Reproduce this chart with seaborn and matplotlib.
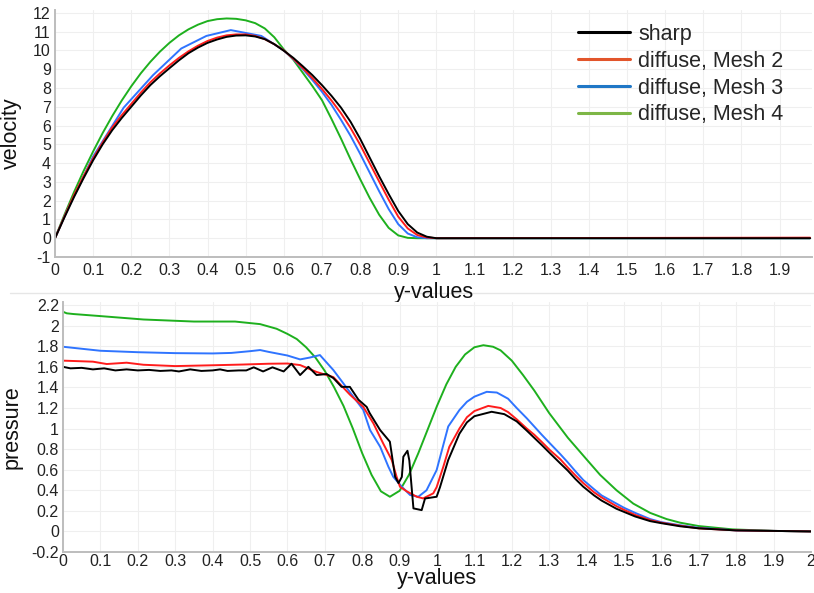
import numpy as np
import pandas as pd
import matplotlib
matplotlib.use("Agg")
import matplotlib.pyplot as plt
from matplotlib.lines import Line2D
import seaborn as sns

# ---------------- data ----------------
series_names = ["sharp", "diffuse, Mesh 2", "diffuse, Mesh 3", "diffuse, Mesh 4"]

# velocity profiles
vel_x_sharp = [0, 0.025, 0.05, 0.075, 0.1, 0.125, 0.15, 0.175, 0.2, 0.225, 0.25, 0.275, 0.3,
               0.325, 0.35, 0.375, 0.4, 0.425, 0.45, 0.475, 0.5, 0.525, 0.55, 0.575, 0.6,
               0.625, 0.65, 0.675, 0.7, 0.725, 0.75, 0.775, 0.8, 0.825, 0.85, 0.875, 0.9,
               0.925, 0.95, 0.975, 1.0, 1.98]
vel_sharp = [0, 1.12, 2.2, 3.2, 4.15, 5.0, 5.75, 6.4, 7.0, 7.6, 8.15, 8.62, 9.05,
             9.47, 9.85, 10.15, 10.4, 10.58, 10.72, 10.79, 10.8, 10.74, 10.6, 10.33, 9.98,
             9.6, 9.15, 8.68, 8.15, 7.58, 6.95, 6.2, 5.3, 4.3, 3.3, 2.35, 1.45,
             0.75, 0.3, 0.08, 0.0, 0.0]
vel_x_m2 = [0, 0.025, 0.05, 0.075, 0.1, 0.125, 0.15, 0.175, 0.2, 0.225, 0.25, 0.275, 0.3,
            0.325, 0.35, 0.375, 0.4, 0.425, 0.45, 0.475, 0.5, 0.525, 0.55, 0.575, 0.6,
            0.625, 0.65, 0.675, 0.7, 0.725, 0.75, 0.775, 0.8, 0.825, 0.85, 0.875, 0.9,
            0.925, 0.95, 0.975, 1.0, 1.98]
vel_m2 = [0, 1.17, 2.3, 3.3, 4.25, 5.1, 5.9, 6.55, 7.15, 7.75, 8.3, 8.77, 9.2,
          9.6, 9.95, 10.25, 10.5, 10.68, 10.8, 10.85, 10.85, 10.77, 10.6, 10.33, 10.0,
          9.55, 9.05, 8.52, 7.95, 7.33, 6.65, 5.87, 4.98, 4.0, 3.02, 2.05, 1.15,
          0.52, 0.17, 0.04, 0.0, 0.03]
vel_x_m3 = [0, 0.03, 0.1, 0.18, 0.257, 0.331, 0.397, 0.461, 0.541, 0.6, 0.625, 0.65, 0.675,
            0.7, 0.725, 0.75, 0.775, 0.8, 0.825, 0.85, 0.875, 0.9, 0.925, 0.95, 0.975, 1.0, 1.98]
vel_m3 = [0, 1.4, 4.35, 6.95, 8.68, 10.1, 10.77, 11.08, 10.77, 10.0, 9.53, 9.0, 8.42,
          7.8, 7.1, 6.3, 5.45, 4.5, 3.5, 2.5, 1.55, 0.75, 0.25, 0.05, 0.0, 0.0, 0.0]
vel_x_m4 = [0, 0.025, 0.05, 0.075, 0.1, 0.125, 0.15, 0.175, 0.2, 0.225, 0.25, 0.275, 0.3,
            0.325, 0.35, 0.375, 0.4, 0.425, 0.45, 0.475, 0.5, 0.525, 0.55, 0.575, 0.6,
            0.625, 0.65, 0.675, 0.7, 0.725, 0.75, 0.775, 0.8, 0.825, 0.85, 0.875, 0.9,
            0.925, 0.95, 1.0, 1.98]
vel_m4 = [0, 1.26, 2.46, 3.58, 4.62, 5.6, 6.5, 7.33, 8.09, 8.78, 9.39, 9.93, 10.4,
          10.8, 11.12, 11.37, 11.56, 11.66, 11.7, 11.68, 11.6, 11.45, 11.17, 10.7, 10.05,
          9.5, 8.8, 8.1, 7.35, 6.35, 5.3, 4.2, 3.15, 2.15, 1.25, 0.55, 0.15,
          0.02, 0.0, 0.0, 0.0]

# pressure profiles
p_x_sharp = [0.0, 0.02, 0.05, 0.08, 0.11, 0.14, 0.17, 0.2, 0.23, 0.26, 0.29, 0.31, 0.34, 0.37,
             0.4, 0.42, 0.44, 0.47, 0.49, 0.51, 0.535, 0.56, 0.59, 0.611, 0.634, 0.656, 0.678,
             0.705, 0.723, 0.745, 0.767, 0.79, 0.812, 0.82, 0.848, 0.874, 0.888, 0.897, 0.906,
             0.91, 0.921, 0.926, 0.937, 0.959, 0.968, 0.999, 1.008, 1.03, 1.06, 1.08, 1.1,
             1.146, 1.18, 1.213, 1.24, 1.26, 1.28, 1.302, 1.33, 1.35, 1.37, 1.391, 1.42,
             1.44, 1.48, 1.5, 1.53, 1.57, 1.6, 1.65, 1.7, 1.8, 2.0]
p_sharp = [1.60, 1.585, 1.59, 1.575, 1.585, 1.565, 1.575, 1.565, 1.57, 1.56, 1.565, 1.555, 1.575, 1.56,
           1.565, 1.575, 1.56, 1.565, 1.565, 1.595, 1.555, 1.595, 1.555, 1.63, 1.52, 1.60, 1.52,
           1.53, 1.49, 1.405, 1.405, 1.28, 1.21, 1.15, 0.985, 0.872, 0.531, 0.47, 0.53,
           0.726, 0.784, 0.69, 0.224, 0.207, 0.32, 0.337, 0.43, 0.694, 0.95, 1.06, 1.12,
           1.163, 1.14, 1.07, 0.98, 0.91, 0.84, 0.76, 0.66, 0.59, 0.51, 0.435, 0.35,
           0.30, 0.22, 0.19, 0.145, 0.10, 0.08, 0.05, 0.03, 0.01, 0.0]
p_x_m2 = [0.0, 0.08, 0.117, 0.17, 0.215, 0.3, 0.4, 0.48, 0.55, 0.6, 0.634, 0.678, 0.723, 0.767,
          0.803, 0.83, 0.856, 0.879, 0.892, 0.901, 0.919, 0.946, 0.963, 0.99, 0.999, 1.017, 1.033,
          1.06, 1.08, 1.1, 1.137, 1.17, 1.19, 1.213, 1.24, 1.26, 1.28, 1.302, 1.33, 1.35, 1.37,
          1.391, 1.42, 1.44, 1.48, 1.5, 1.53, 1.57, 1.6, 1.65, 1.7, 1.8, 2.0]
p_m2 = [1.66, 1.65, 1.627, 1.64, 1.62, 1.607, 1.615, 1.622, 1.63, 1.632, 1.617, 1.55, 1.50, 1.33,
        1.21, 1.05, 0.856, 0.694, 0.531, 0.434, 0.39, 0.337, 0.321, 0.37, 0.43, 0.63, 0.823,
        1.0, 1.11, 1.17, 1.22, 1.20, 1.16, 1.09, 1.0, 0.94, 0.87, 0.79, 0.70, 0.62, 0.545,
        0.47, 0.38, 0.33, 0.245, 0.21, 0.16, 0.11, 0.085, 0.055, 0.03, 0.01, 0.0]
p_x_m3 = [0.0, 0.1, 0.2, 0.3, 0.4, 0.45, 0.5, 0.527, 0.55, 0.6, 0.634, 0.66, 0.687, 0.723, 0.763,
          0.803, 0.821, 0.848, 0.870, 0.883, 0.906, 0.928, 0.95, 0.972, 0.999, 1.03, 1.06, 1.08,
          1.1, 1.133, 1.16, 1.19, 1.213, 1.24, 1.26, 1.28, 1.302, 1.33, 1.35, 1.37, 1.391, 1.42,
          1.44, 1.48, 1.5, 1.53, 1.57, 1.6, 1.65, 1.7, 1.8, 2.0]
p_m3 = [1.795, 1.756, 1.742, 1.733, 1.73, 1.735, 1.752, 1.763, 1.745, 1.71, 1.672, 1.69, 1.714,
        1.568, 1.374, 1.18, 0.985, 0.823, 0.629, 0.531, 0.434, 0.354, 0.337, 0.40, 0.596, 1.02,
        1.18, 1.26, 1.31, 1.357, 1.35, 1.29, 1.20, 1.10, 1.02, 0.94, 0.856, 0.75, 0.67, 0.585,
        0.50, 0.41, 0.35, 0.27, 0.23, 0.18, 0.12, 0.09, 0.06, 0.035, 0.01, 0.0]
p_x_m4 = [0.0, 0.01, 0.028, 0.1, 0.215, 0.35, 0.46, 0.527, 0.571, 0.6, 0.625, 0.65, 0.675, 0.7,
          0.725, 0.75, 0.775, 0.8, 0.825, 0.85, 0.874, 0.9, 0.925, 0.95, 0.975, 1.0, 1.025, 1.05,
          1.075, 1.1, 1.124, 1.15, 1.17, 1.2, 1.23, 1.26, 1.3, 1.35, 1.4, 1.436, 1.48, 1.525,
          1.57, 1.614, 1.65, 1.7, 1.79, 1.9, 2.0]
p_m4 = [2.135, 2.12, 2.113, 2.093, 2.06, 2.04, 2.04, 2.015, 1.97, 1.92, 1.87, 1.79, 1.69, 1.56,
        1.40, 1.22, 1.0, 0.76, 0.55, 0.39, 0.337, 0.395, 0.55, 0.76, 0.99, 1.22, 1.43, 1.6,
        1.72, 1.79, 1.81, 1.795, 1.76, 1.66, 1.52, 1.37, 1.15, 0.91, 0.70, 0.55, 0.40, 0.27,
        0.18, 0.12, 0.085, 0.052, 0.02, 0.005, 0.0]

vel_ticks_x = [round(0.1 * i, 1) for i in range(20)]
vel_ticks_y = list(range(-1, 13))
p_ticks_x = [round(0.1 * i, 1) for i in range(21)]
p_ticks_y = [round(-0.2 + 0.2 * i, 1) for i in range(13)]

line_colors = {"sharp": "#000000", "diffuse, Mesh 2": "#ff1c1c",
               "diffuse, Mesh 3": "#2f74ff", "diffuse, Mesh 4": "#1eb01e"}
legend_colors = ["#000000", "#e2552b", "#1f77c6", "#7db646"]


def tick_fmt(v):
    return f"{v:g}"


def long_df(pairs):
    frames = []
    for name, xs, ys in pairs:
        frames.append(pd.DataFrame({"x": xs, "y": ys, "series": name}))
    return pd.concat(frames, ignore_index=True)


vel_df = long_df([
    ("diffuse, Mesh 4", vel_x_m4, vel_m4),
    ("diffuse, Mesh 3", vel_x_m3, vel_m3),
    ("diffuse, Mesh 2", vel_x_m2, vel_m2),
    ("sharp", vel_x_sharp, vel_sharp),
])
p_df = long_df([
    ("diffuse, Mesh 4", p_x_m4, p_m4),
    ("diffuse, Mesh 3", p_x_m3, p_m3),
    ("diffuse, Mesh 2", p_x_m2, p_m2),
    ("sharp", p_x_sharp, p_sharp),
])

# ---------------- style ----------------
sns.set_style("white")
plt.rcParams["font.family"] = ["Liberation Sans", "DejaVu Sans"]

fig = plt.figure(figsize=(8.14, 5.93), dpi=100)
ax1 = fig.add_axes([55 / 814, 1 - 257 / 593, (812 - 55) / 814, (257 - 10) / 593])
ax2 = fig.add_axes([63 / 814, 1 - 552 / 593, (811 - 63) / 814, (552 - 302) / 593])

order = ["diffuse, Mesh 4", "diffuse, Mesh 3", "diffuse, Mesh 2", "sharp"]
for ax, df in ((ax1, vel_df), (ax2, p_df)):
    sns.lineplot(data=df, x="x", y="y", hue="series", hue_order=order,
                 palette=line_colors, estimator=None, sort=False, linewidth=1.4,
                 legend=False, ax=ax)

label_font = dict(family=["Liberation Sans", "DejaVu Sans"], size=15.5, color="#111111")

ax1.set_xlim(0, 1.985)
ax1.set_ylim(-1, 12.15)
ax1.set_xticks(vel_ticks_x)
ax1.set_xticklabels([tick_fmt(v) for v in vel_ticks_x])
ax1.set_yticks(vel_ticks_y)
ax1.set_yticklabels([tick_fmt(v) for v in vel_ticks_y])
ax1.set_ylabel("velocity", **label_font, labelpad=8)

ax2.set_xlim(0, 2.0)
ax2.set_ylim(-0.2, 2.23)
ax2.set_xticks(p_ticks_x)
ax2.set_xticklabels([tick_fmt(v) for v in p_ticks_x])
ax2.set_yticks(p_ticks_y)
ax2.set_yticklabels([tick_fmt(v) for v in p_ticks_y])
ax2.set_ylabel("pressure", **label_font, labelpad=6)

for ax in (ax1, ax2):
    ax.grid(True, color="#efefef", linewidth=0.8)
    ax.set_axisbelow(True)
    for s in ("top", "right"):
        ax.spines[s].set_visible(False)
    for s in ("left", "bottom"):
        ax.spines[s].set_color("#bdbdbd")
        ax.spines[s].set_linewidth(1.4)
    ax.tick_params(axis="both", length=0, labelsize=11.5, labelcolor="#222222")
    ax.tick_params(axis="y", pad=3)
ax1.tick_params(axis="x", pad=4)
ax2.tick_params(axis="x", pad=1.5)
ax1.set_xlabel("y-values", **label_font, labelpad=3)
ax2.set_xlabel("y-values", **label_font, labelpad=-0.5)

handles = [Line2D([0], [0], color=c, linewidth=2.2) for c in legend_colors]
fig.legend(handles, series_names, loc="upper left",
           bbox_to_anchor=(578 / 814, 1 - 24 / 593), frameon=False,
           prop={"family": ["Liberation Sans", "DejaVu Sans"], "size": 15.5},
           handlelength=2.4, handletextpad=0.4, labelspacing=0.27,
           borderaxespad=0, borderpad=0)

# faint separator between the two views
fig.add_artist(Line2D([10 / 814, 1.0], [1 - 293 / 593, 1 - 293 / 593],
                      color="#e6e6e6", linewidth=1.0, zorder=0))

fig.savefig("out.png", dpi=100)
